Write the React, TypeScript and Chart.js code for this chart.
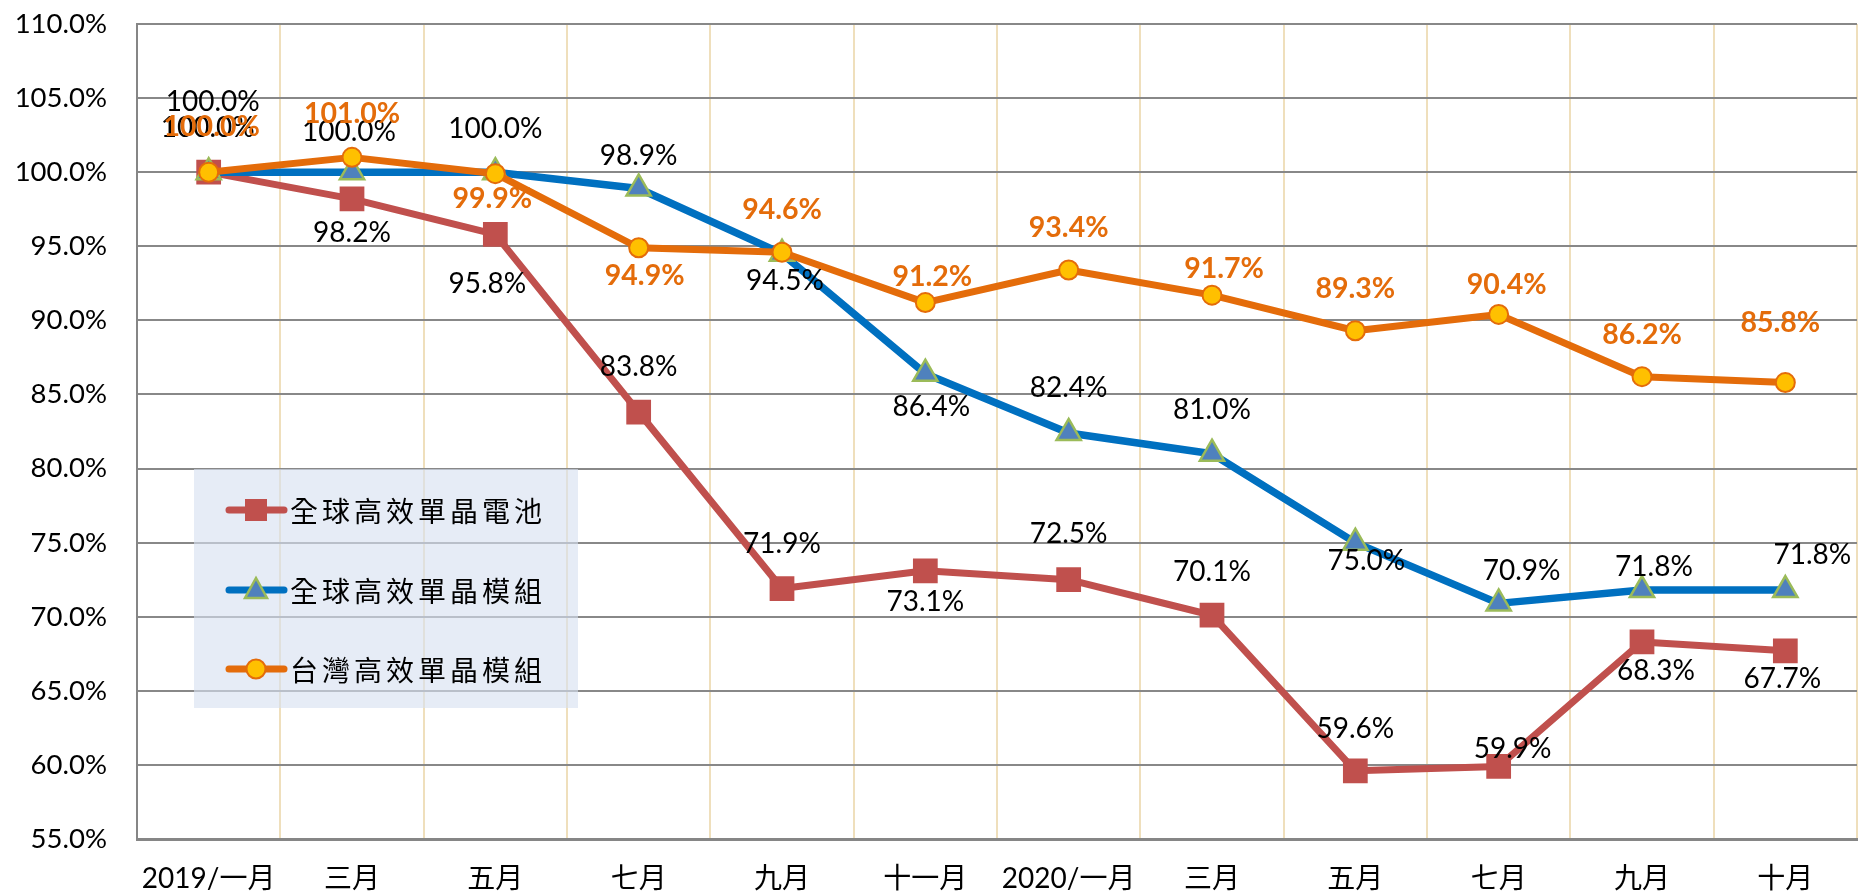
import React, { useEffect, useRef } from 'react';
import { Chart, registerables } from 'chart.js';

Chart.register(...registerables);

const categories = ['2019/一月', '三月', '五月', '七月', '九月', '十一月', '2020/一月', '三月', '五月', '七月', '九月', '十月'];
const seriesNames = ['全球高效單晶電池', '全球高效單晶模組', '台灣高效單晶模組'];
const cellValues = [100.0, 98.2, 95.8, 83.8, 71.9, 73.1, 72.5, 70.1, 59.6, 59.9, 68.3, 67.7];
const moduleValues = [100.0, 100.0, 100.0, 98.9, 94.5, 86.4, 82.4, 81.0, 75.0, 70.9, 71.8, 71.8];
const taiwanValues = [100.0, 101.0, 99.9, 94.9, 94.6, 91.2, 93.4, 91.7, 89.3, 90.4, 86.2, 85.8];
const yMin = 55;
const yMax = 110;
const yStep = 5;

// data label placement (pixel offsets from each point)
const cellLabelDx = [-1, 0, -8, 0, 0, 0, 0, 0, 0, 14, 14, -3];
const cellLabelDy = [-44, 34, 50, -45, -45, 31, -46, -43, -42, -17, 29, 28];
const moduleLabelDx = [4, -3, 0, 0, 3, 6, 0, 0, 11, 23, 12, 27];
const moduleLabelDy = [-70, -40, -43, -33, 27, 33, -45, -44, 18, -32, -23, -35];
const taiwanLabelDx = [3, 0, -3, 6, 0, 7, 0, 12, 0, 8, 0, -5];
const taiwanLabelDy = [-45, -44, 25, 28, -42, -26, -42, -26, -42, -30, -42, -60];

const RED = '#C0504D';
const BLUE = '#0070C0';
const BLUE_FILL = '#4F81BD';
const GREEN = '#9BBB59';
const ORANGE = '#E46C0A';
const GOLD = '#FFC000';

const NUM_FONT = 'Lato, "Noto Sans CJK TC", sans-serif';
const CJK_FONT = '"Noto Sans CJK TC", sans-serif';

const labelPlugin = {
  id: 'valueLabels',
  afterDatasetsDraw(chart: any) {
    const ctx = chart.ctx;
    const cfgs = [
      { vals: cellValues, dx: cellLabelDx, dy: cellLabelDy, color: '#000', bold: false },
      { vals: moduleValues, dx: moduleLabelDx, dy: moduleLabelDy, color: '#000', bold: false },
      { vals: taiwanValues, dx: taiwanLabelDx, dy: taiwanLabelDy, color: ORANGE, bold: true },
    ];
    ctx.save();
    ctx.textAlign = 'center';
    ctx.textBaseline = 'middle';
    cfgs.forEach((c, di) => {
      const meta = chart.getDatasetMeta(di);
      ctx.font = (c.bold ? 'bold 28.5px ' : '28px ') + NUM_FONT;
      ctx.fillStyle = c.color;
      meta.data.forEach((pt: any, i: number) => {
        ctx.fillText(c.vals[i].toFixed(1) + '%', pt.x + c.dx[i], pt.y + c.dy[i]);
      });
    });
    ctx.restore();
  },
};

function drawMarker(ctx: CanvasRenderingContext2D, kind: string, x: number, y: number) {
  ctx.save();
  if (kind === 'rect') {
    ctx.fillStyle = RED;
    ctx.fillRect(x - 11, y - 11, 22, 22);
  } else if (kind === 'triangle') {
    ctx.beginPath();
    ctx.moveTo(x, y - 12);
    ctx.lineTo(x + 11, y + 8);
    ctx.lineTo(x - 11, y + 8);
    ctx.closePath();
    ctx.fillStyle = BLUE_FILL;
    ctx.fill();
    ctx.lineWidth = 2.5;
    ctx.strokeStyle = GREEN;
    ctx.stroke();
  } else {
    ctx.beginPath();
    ctx.arc(x, y, 9.5, 0, Math.PI * 2);
    ctx.fillStyle = GOLD;
    ctx.fill();
    ctx.lineWidth = 2;
    ctx.strokeStyle = ORANGE;
    ctx.stroke();
  }
  ctx.restore();
}

const legendPlugin = {
  id: 'boxLegend',
  beforeDatasetsDraw(chart: any) {
    const ctx = chart.ctx;
    ctx.save();
    ctx.fillStyle = 'rgba(214,225,241,0.62)';
    ctx.fillRect(194, 469, 384, 239);
    const items = [
      { color: RED, kind: 'rect' },
      { color: BLUE, kind: 'triangle' },
      { color: ORANGE, kind: 'circle' },
    ];
    const rows = [510, 590, 669];
    items.forEach((it, i) => {
      const y = rows[i];
      ctx.beginPath();
      ctx.moveTo(229, y);
      ctx.lineTo(284, y);
      ctx.lineWidth = 7;
      ctx.lineCap = 'round';
      ctx.strokeStyle = it.color;
      ctx.stroke();
      drawMarker(ctx, it.kind, 256, y);
      ctx.fillStyle = '#000';
      ctx.font = '28px ' + CJK_FONT;
      (ctx as any).letterSpacing = '4px';
      ctx.textAlign = 'left';
      ctx.textBaseline = 'middle';
      ctx.fillText(seriesNames[i], 290, y + 1);
      (ctx as any).letterSpacing = '0px';
    });
    ctx.restore();
  },
};

export default function App() {
  const ref = useRef<HTMLCanvasElement | null>(null);
  useEffect(() => {
    if (!ref.current) return;
    const chart = new Chart(ref.current, {
      type: 'line',
      data: {
        labels: categories,
        datasets: [
          {
            label: seriesNames[0],
            data: cellValues,
            borderColor: RED,
            backgroundColor: RED,
            borderWidth: 7,
            pointStyle: 'rect',
            pointRadius: 17.5,
            pointBorderWidth: 0,
            pointBackgroundColor: RED,
            pointBorderColor: RED,
            order: 2,
          },
          {
            label: seriesNames[1],
            data: moduleValues,
            borderColor: BLUE,
            backgroundColor: BLUE_FILL,
            borderWidth: 7.5,
            pointStyle: 'triangle',
            pointRadius: 14,
            pointBorderWidth: 2.5,
            pointBackgroundColor: BLUE_FILL,
            pointBorderColor: GREEN,
            order: 1,
          },
          {
            label: seriesNames[2],
            data: taiwanValues,
            borderColor: ORANGE,
            backgroundColor: GOLD,
            borderWidth: 7,
            pointStyle: 'circle',
            pointRadius: 9.5,
            pointBorderWidth: 2,
            pointBackgroundColor: GOLD,
            pointBorderColor: ORANGE,
            order: 0,
          },
        ],
      },
      options: {
        responsive: false,
        animation: false,
        events: [],
        layout: { autoPadding: false, padding: { top: 24, right: 1, left: 0, bottom: 0 } },
        elements: {
          line: { tension: 0, borderJoinStyle: 'round', borderCapStyle: 'round' },
        },
        plugins: {
          legend: { display: false },
          tooltip: { enabled: false },
          title: { display: false },
        },
        scales: {
          x: {
            type: 'category',
            offset: true,
            grid: { display: true, offset: true, color: '#EFDFBC', lineWidth: 2, drawTicks: false },
            border: { display: true, color: '#868686', width: 3 },
            ticks: {
              color: '#000',
              font: { family: NUM_FONT, size: 28 },
              padding: 23,
              maxRotation: 0,
              autoSkip: false,
            },
            afterFit: (s: any) => {
              s.height = 57;
              s.paddingLeft = 0;
              s.paddingRight = 0;
            },
          },
          y: {
            min: yMin,
            max: yMax,
            grid: { color: '#888888', lineWidth: 2, drawTicks: false },
            border: { display: true, color: '#868686', width: 2 },
            ticks: {
              stepSize: yStep,
              color: '#000',
              font: { family: NUM_FONT, size: 27.5 },
              padding: 30,
              callback: (v: any) => Number(v).toFixed(1) + '%',
            },
            afterFit: (s: any) => {
              s.width = 137;
              s.paddingTop = 0;
              s.paddingBottom = 0;
            },
          },
        },
      },
      plugins: [legendPlugin, labelPlugin],
    } as any);
    return () => chart.destroy();
  }, []);
  return (
    <div style={{ position: 'absolute', left: 0, top: 0, width: 1858, height: 896, background: '#fff' }}>
      <canvas ref={ref} width={1858} height={896} style={{ display: 'block' }} />
    </div>
  );
}
